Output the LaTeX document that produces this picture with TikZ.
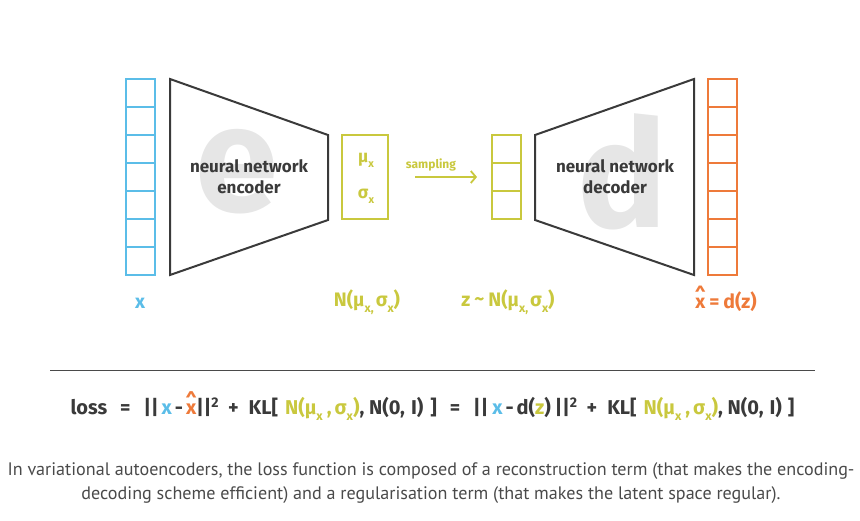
\documentclass[tikz,border=0pt]{standalone}
\usepackage{fontspec}
\setmainfont{Fira Sans}
\newfontfamily\capfont{PT Sans}
\usetikzlibrary{arrows.meta}
\definecolor{vblue}{HTML}{5BBDE8}
\definecolor{vyel}{HTML}{C9C83E}
\definecolor{vora}{HTML}{EE7A3A}
\definecolor{vdark}{HTML}{3A3A3A}
\definecolor{vbig}{HTML}{E6E6E6}
\definecolor{vcap}{HTML}{4A4A4A}
\newcommand\lowsub[1]{\raisebox{-0.55ex}{\scalebox{0.62}{#1}}}
\newcommand\xhat{\ooalign{x\cr\hidewidth\raisebox{0.62ex}{\textasciicircum}\hidewidth\cr}}
\newcommand\hs[1]{\hspace{#1pt}}
\begin{document}
\begin{tikzpicture}[x=1pt,y=-1pt,
  cell/.style={draw, line width=1.8pt, minimum width=29pt, minimum height=28pt, inner sep=0pt},
  trap/.style={draw=vdark, line width=2pt, line join=miter},
  bigl/.style={text=vbig, font=\fontsize{150}{150}\selectfont\bfseries},
  nntext/.style={text=vdark, align=center, font=\fontsize{17}{21}\selectfont\bfseries},
  lab/.style={font=\fontsize{19.5}{20}\selectfont\bfseries},
]
\useasboundingbox (0,0) rectangle (860,520);

% big background letters
\node[bigl] (bige) at (237,172) {e};
\node[bigl] (bigd) at (622,172) {d};

% input column
\foreach \i in {0,...,6} \node[cell, draw=vblue] (in\i) at (140.5,93+28*\i) {};
% output column
\foreach \i in {0,...,6} \node[cell, draw=vora] (out\i) at (722.5,93+28*\i) {};
% latent column
\foreach \i in {0,...,2} \node[cell, draw=vyel] (z\i) at (506.5,149+28*\i) {};

% encoder / decoder
\coordinate (e1) at (170,79); \coordinate (e2) at (328,135);
\coordinate (e3) at (328,220); \coordinate (e4) at (170,275);
\draw[trap] (e1) -- (e2) -- (e3) -- (e4) -- cycle;
\coordinate (d1) at (535,135); \coordinate (d2) at (694,79);
\coordinate (d3) at (694,275); \coordinate (d4) at (535,220);
\draw[trap] (d1) -- (d2) -- (d3) -- (d4) -- cycle;
\node[nntext] (enc) at (249,177) {neural network\\encoder};
\node[nntext] (dec) at (615,177) {neural network\\decoder};

% mu sigma box
\node[draw=vyel, line width=1.8pt, minimum width=46pt, minimum height=84pt, inner sep=0pt] (ms) at (365,177) {};
\node[text=vyel, font=\fontsize{17.5}{20}\selectfont\bfseries] (mu) at (366,160) {μ\lowsub{x}};
\node[text=vyel, font=\fontsize{17.5}{20}\selectfont\bfseries] (sig) at (366,196) {σ\lowsub{x}};

% sampling arrow
\coordinate (sa) at (415,177);
\coordinate (sb) at (477,177);
\draw[vyel, line width=1.8pt, -{Straight Barb[length=5pt,width=12pt,line width=1.8pt]}] (sa) -- (sb);
\node[text=vyel, font=\fontsize{12}{12}\selectfont\bfseries] (samp) at (431,165) {sampling};

% labels
\node[lab, text=vblue] (xl) at (140,303) {x};
\node[lab, text=vyel] (nl) at (367,302) {N(μ\lowsub{x,}\hs{2}σ\lowsub{x})};
\node[lab, text=vyel] (zl) at (508,302) {z\hs{4}\raisebox{0.1ex}{\textasciitilde}\hs{4}N(μ\lowsub{x,}\hs{2}σ\lowsub{x})};
\node[lab, text=vora] (xh) at (726,302) {\xhat\hs{4}=\hs{4}d(z)};

% separator
\coordinate (l1) at (50,370); \coordinate (l2) at (815,370);
\draw[vcap, line width=1pt] (l1) -- (l2);

% loss formula
\node[text=vdark, font=\fontsize{20}{20}\selectfont\bfseries] (loss) at (432.5,409) {loss\hs{13}=\hs{13}||\hs{3}\textcolor{vblue}{x}\hs{3}-\hs{3}\textcolor{vora}{\xhat}||\textsuperscript{2}\hs{9}+\hs{10}KL[\hs{7}\textcolor{vyel}{N(μ\lowsub{x}\hs{4},\hs{3}σ\lowsub{x})}, N(0,\hs{6}I)\hs{7}]\hs{13}=\hs{13}||\hs{4}\textcolor{vblue}{x}\hs{3}-\hs{3}d(\textcolor{vyel}{z})\hs{4}||\textsuperscript{2}\hs{9}+\hs{10}KL[\hs{7}\textcolor{vyel}{N(μ\lowsub{x}\hs{4},\hs{3}σ\lowsub{x})}, N(0,\hs{6}I)\hs{6}]};

% caption
\node[text=vcap, align=center, font=\capfont\fontsize{18.1}{24}\selectfont] (cap) at (431,483) {In variational autoencoders, the loss function is composed of a reconstruction term (that makes the encoding-\\decoding scheme efficient) and a regularisation term (that makes the latent space regular).};
\end{tikzpicture}
\end{document}
